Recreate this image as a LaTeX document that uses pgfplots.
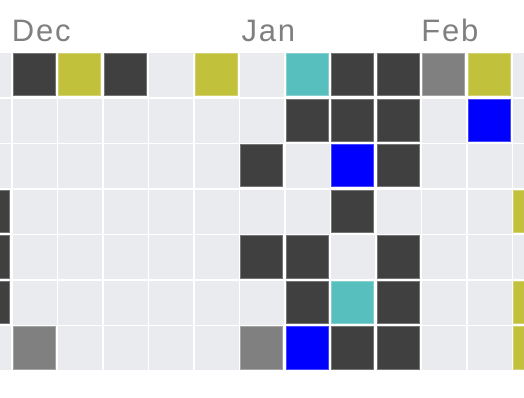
\documentclass[border=0pt]{standalone}
\usepackage{pgfplots}
\pgfplotsset{compat=1.18}
\usepackage{fontspec}
\setmainfont{Liberation Sans}
\newfontfamily\lblfont[LetterSpace=6]{Liberation Sans}
\definecolor{clight}{RGB}{234,235,239}
\definecolor{cdark}{RGB}{64,64,64}
\definecolor{colive}{RGB}{194,193,60}
\definecolor{cteal}{RGB}{88,191,191}
\definecolor{cblue}{RGB}{0,0,255}
\definecolor{cgray}{RGB}{128,128,128}
\definecolor{ctext}{RGB}{128,128,128}
\pgfplotsset{
  cell/.style={only marks, mark=square*, mark size=21.1bp,
    mark options={fill=#1, draw=#1!72!white, line width=1bp}},
}
\begin{document}
\begin{tikzpicture}
\begin{axis}[
  scale only axis,
  width=600.6bp, height=398bp,
  xmin=-0.6, xmax=12.6,
  ymin=-1.646, ymax=7.101,
  y dir=reverse,
  hide axis,
  clip=false,
]
% empty days
\addplot[only marks, mark=square*, mark size=21.55bp, mark options={fill=clight, draw=clight, line width=0.1bp}] coordinates {
 (0,0) (4,0) (6,0) (12,0)
 (0,1) (1,1) (2,1) (3,1) (4,1) (5,1) (6,1) (10,1) (12,1)
 (0,2) (1,2) (2,2) (3,2) (4,2) (5,2) (7,2) (10,2) (11,2) (12,2)
 (1,3) (2,3) (3,3) (4,3) (5,3) (6,3) (7,3) (9,3) (10,3) (11,3)
 (1,4) (2,4) (3,4) (4,4) (5,4) (8,4) (10,4) (11,4) (12,4)
 (1,5) (2,5) (3,5) (4,5) (5,5) (6,5) (10,5) (11,5)
 (0,6) (2,6) (3,6) (4,6) (5,6) (10,6) (11,6)
};
% dark
\addplot[cell=cdark] coordinates {
 (1,0) (3,0) (8,0) (9,0)
 (7,1) (8,1) (9,1)
 (6,2) (9,2)
 (0,3) (8,3)
 (0,4) (6,4) (7,4) (9,4)
 (0,5) (7,5) (9,5)
 (8,6) (9,6)
};
% olive
\addplot[cell=colive] coordinates {
 (2,0) (5,0) (11,0) (12,3) (12,5) (12,6)
};
% teal
\addplot[cell=cteal] coordinates {
 (7,0) (8,5)
};
% blue
\addplot[cell=cblue] coordinates {
 (11,1) (8,2) (7,6)
};
% gray
\addplot[cell=cgray] coordinates {
 (10,0) (1,6) (6,6)
};
\node[anchor=base west, inner sep=0pt, text=ctext, font=\lblfont\fontsize{31bp}{31bp}\selectfont] at (axis cs:0.5,-0.73) {Dec};
\node[anchor=base west, inner sep=0pt, text=ctext, font=\lblfont\fontsize{31bp}{31bp}\selectfont] at (axis cs:5.55,-0.73) {Jan};
\node[anchor=base west, inner sep=0pt, text=ctext, font=\lblfont\fontsize{31bp}{31bp}\selectfont] at (axis cs:9.5,-0.73) {Feb};
\coordinate (bbsw) at (axis cs:0.245,7.101);
\coordinate (bbne) at (axis cs:11.762,-1.646);
\end{axis}
\pgfresetboundingbox
\path[use as bounding box] (bbsw) rectangle (bbne);
\end{tikzpicture}
\end{document}
